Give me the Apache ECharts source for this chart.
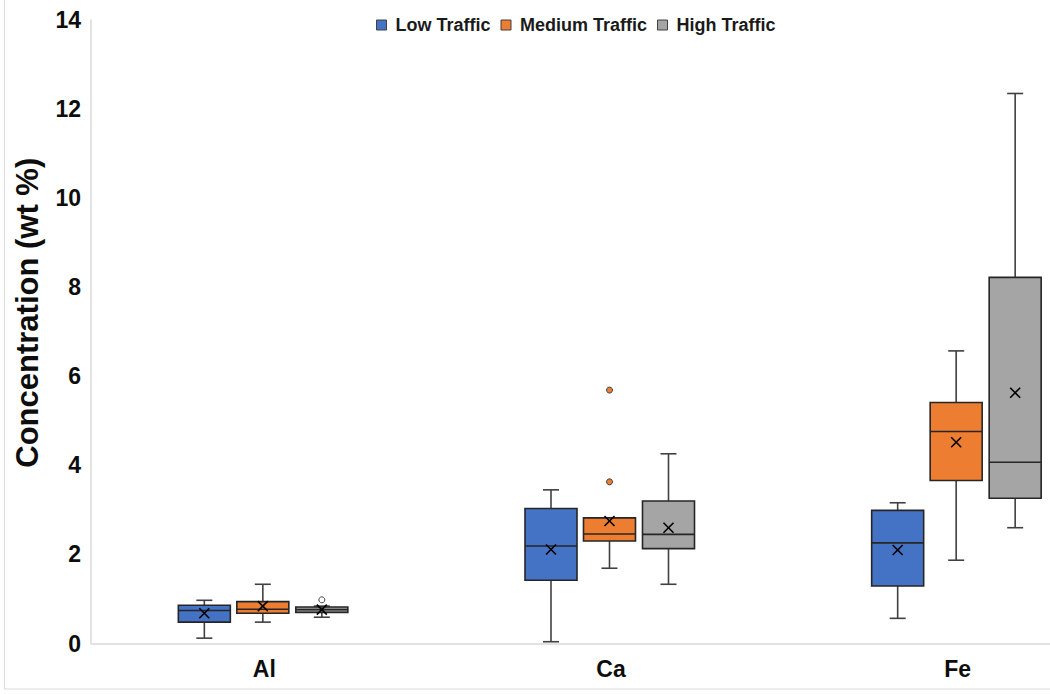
<!DOCTYPE html>
<html>
<head>
<meta charset="utf-8">
<script src="https://cdn.jsdelivr.net/npm/echarts@6/dist/echarts.min.js"></script>
<style>
  html, body { margin: 0; padding: 0; background: #ffffff; }
  #chart { width: 1050px; height: 694px; }
</style>
</head>
<body>
<div id="chart"></div>
<script>
// ---- Data ----
const categories = ['Al', 'Ca', 'Fe'];
const seriesNames = ['Low Traffic', 'Medium Traffic', 'High Traffic'];
// [min, Q1, median, Q3, max]
const lowBox  = [[0.12, 0.48, 0.74, 0.86, 0.97], [0.04, 1.42, 2.19, 3.03, 3.45], [0.565, 1.29, 2.26, 2.99, 3.16]];
const lowMean = [0.68, 2.11, 2.10];
const medBox  = [[0.48, 0.68, 0.77, 0.94, 1.33], [1.69, 2.30, 2.46, 2.82, 2.82], [1.87, 3.66, 4.76, 5.41, 6.57]];
const medMean = [0.84, 2.75, 4.52];
const highBox  = [[0.59, 0.70, 0.76, 0.82, 0.84], [1.33, 2.13, 2.45, 3.20, 4.26], [2.60, 3.26, 4.07, 8.22, 12.35]];
const highMean = [0.76, 2.60, 5.63];
// outliers: [category index, value]
const medOutliers  = [[1, 5.69], [1, 3.63]];
const highOutliers = [[0, 0.98]];
const yTicks = { min: 0, max: 14, interval: 2 };

// ---- Styles ----
const FONT = '"Liberation Sans", Arial, sans-serif';
const COLORS = ['#4472C4', '#ED7D31', '#A5A5A5'];
const OFFSETS = [-60, -1.5, 57.5];   // px offset of each traffic level inside a category
const BOX_W = 52, CAP_W = 16, MEAN_SIZE = 10;
const BORDER = '#262626', WHISKER = '#404040', AXIS = '#d9d9d9';

function boxRenderer(dx, fill) {
  return function (params, api) {
    const ci = api.value(0);
    const x = api.coord([ci, 0])[0] + dx;
    const Y = i => api.coord([ci, api.value(i)])[1];
    const yMin = Y(1), yQ1 = Y(2), yMed = Y(3), yQ3 = Y(4), yMax = Y(5), yMean = Y(6);
    const hw = BOX_W / 2, cap = CAP_W / 2, m = MEAN_SIZE / 2;
    const ls = { stroke: WHISKER, lineWidth: 1.6 };
    return {
      type: 'group',
      children: [
        { type: 'line', shape: { x1: x, y1: yQ3, x2: x, y2: yMax }, style: ls },
        { type: 'line', shape: { x1: x - cap, y1: yMax, x2: x + cap, y2: yMax }, style: ls },
        { type: 'line', shape: { x1: x, y1: yQ1, x2: x, y2: yMin }, style: ls },
        { type: 'line', shape: { x1: x - cap, y1: yMin, x2: x + cap, y2: yMin }, style: ls },
        { type: 'rect', shape: { x: x - hw, y: yQ3, width: 2 * hw, height: yQ1 - yQ3 }, style: { fill: fill, stroke: BORDER, lineWidth: 1.6 } },
        { type: 'line', shape: { x1: x - hw, y1: yMed, x2: x + hw, y2: yMed }, style: { stroke: BORDER, lineWidth: 1.6 } },
        { type: 'line', shape: { x1: x - m, y1: yMean - m, x2: x + m, y2: yMean + m }, style: { stroke: '#000', lineWidth: 1.6 } },
        { type: 'line', shape: { x1: x - m, y1: yMean + m, x2: x + m, y2: yMean - m }, style: { stroke: '#000', lineWidth: 1.6 } }
      ]
    };
  };
}
function outlierRenderer(dx, fill) {
  return function (params, api) {
    const p = api.coord([api.value(0), api.value(1)]);
    return { type: 'circle', shape: { cx: p[0] + dx, cy: p[1], r: 3 }, style: { fill: fill, stroke: '#404040', lineWidth: 1 } };
  };
}

const boxes = [lowBox, medBox, highBox];
const means = [lowMean, medMean, highMean];
const series = seriesNames.map((name, s) => ({
  type: 'custom',
  name: name,
  renderItem: boxRenderer(OFFSETS[s], COLORS[s]),
  itemStyle: { color: COLORS[s], borderColor: '#404040', borderWidth: 1 },
  encode: { x: 0, y: [1, 2, 3, 4, 5, 6] },
  data: categories.map((c, i) => [i].concat(boxes[s][i], [means[s][i]]))
}));
series.push({
  type: 'custom', name: 'Medium outliers', renderItem: outlierRenderer(OFFSETS[1], COLORS[1]),
  encode: { x: 0, y: 1 }, data: medOutliers, z: 3
});
series.push({
  type: 'custom', name: 'High outliers', renderItem: outlierRenderer(OFFSETS[2], '#ffffff'),
  encode: { x: 0, y: 1 }, data: highOutliers, z: 3
});

const chart = echarts.init(document.getElementById('chart'), null, { renderer: 'svg' });
chart.setOption({
  animation: false,
  backgroundColor: '#ffffff',
  textStyle: { fontFamily: FONT },
  graphic: [{
    type: 'rect', silent: true, z: -10,
    shape: { x: 4.5, y: -5, width: 1100, height: 694 },
    style: { fill: 'none', stroke: AXIS, lineWidth: 1 }
  }],
  legend: {
    data: seriesNames,
    left: 371, top: 11,
    icon: 'rect', itemWidth: 10, itemHeight: 10, itemGap: 10,
    itemStyle: { borderColor: '#404040', borderWidth: 1 },
    textStyle: { fontFamily: FONT, fontSize: 18, fontWeight: 'bold', color: '#1a1a1a', padding: [0, 0, 0, 4] }
  },
  grid: { left: 91, top: 20, width: 1040, height: 623.5, containLabel: false, outerBoundsMode: 'none' },
  xAxis: {
    type: 'category',
    data: categories,
    axisLine: { show: true, lineStyle: { color: AXIS, width: 1.5 } },
    axisTick: { show: false },
    splitLine: { show: false },
    axisLabel: { fontFamily: FONT, fontSize: 23, fontWeight: 'bold', color: '#0d0d0d', margin: 14 }
  },
  yAxis: {
    type: 'value',
    min: yTicks.min, max: yTicks.max, interval: yTicks.interval,
    name: 'Concentration (wt %)',
    nameLocation: 'middle', nameRotate: 90, nameGap: 48,
    nameTextStyle: { fontFamily: FONT, fontSize: 31, fontWeight: 'bold', color: '#0d0d0d', padding: [0, 0, 0, 38] },
    axisLine: { show: true, lineStyle: { color: AXIS, width: 1.5 } },
    axisTick: { show: false },
    splitLine: { show: false },
    axisLabel: { fontFamily: FONT, fontSize: 23, fontWeight: 'bold', color: '#0d0d0d', margin: 10 }
  },
  series: series
});
</script>
</body>
</html>
